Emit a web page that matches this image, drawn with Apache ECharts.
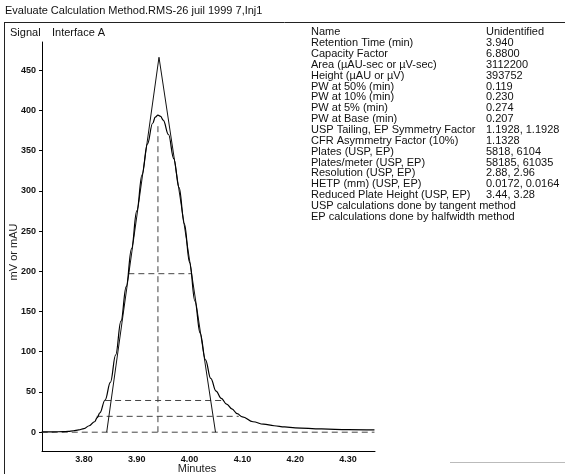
<!DOCTYPE html>
<html>
<head>
<meta charset="utf-8">
<script src="https://cdn.jsdelivr.net/npm/echarts@6/dist/echarts.min.js"></script>
<style>
  html, body { margin: 0; padding: 0; background: #fff; }
  #chart { width: 565px; height: 474px; }
</style>
</head>
<body>
<div id="chart"></div>
<script>
// chromatogram trace (minutes, mV)
const traceX = [3.72, 3.74, 3.76, 3.77, 3.78, 3.79, 3.80, 3.81, 3.82, 3.825, 3.83, 3.84, 3.85, 3.86, 3.87, 3.88, 3.89, 3.90, 3.91, 3.92, 3.93, 3.935, 3.94, 3.945, 3.95, 3.96, 3.97, 3.98, 3.99, 4.00, 4.01, 4.02, 4.03, 4.04, 4.05, 4.06, 4.07, 4.08, 4.09, 4.10, 4.12, 4.14, 4.16, 4.18, 4.20, 4.25, 4.30, 4.35];
const traceY = [0.3, 0.4, 0.7, 1.0, 1.8, 2.8, 4.5, 8, 13, 18, 24, 40, 62, 96, 138, 181, 228, 275, 320, 358, 384, 391.5, 394, 392.5, 388, 370, 340, 304, 259, 211, 163, 123, 90, 67, 51, 42, 35, 29, 23, 19, 13, 10, 8, 6.5, 5.3, 4, 3.2, 2.8];

// tangent triangle
const tangentX = [3.843, 3.942, 4.049];
const tangentY = [0, 466, 0];

// width measurement lines: [x start, x end, height]
const baseLine = [3.72, 4.35, 0];
const halfLine = [3.884, 4.003, 197];
const tenLine = [3.840, 4.064, 39.4];
const fiveLine = [3.824, 4.093, 19.7];
const apexLine = [3.94, 0, 385];

const xTicks = [3.8, 3.9, 4.0, 4.1, 4.2, 4.3];
const yTicks = [0, 50, 100, 150, 200, 250, 300, 350, 400, 450];

const statNames = ['Name', 'Retention Time (min)', 'Capacity Factor', 'Area (\u00b5AU-sec or \u00b5V-sec)', 'Height (\u00b5AU or \u00b5V)', 'PW at 50% (min)', 'PW at 10% (min)', 'PW at 5% (min)', 'PW at Base (min)', 'USP Tailing, EP Symmetry Factor', 'CFR Asymmetry Factor (10%)', 'Plates (USP, EP)', 'Plates/meter (USP, EP)', 'Resolution (USP, EP)', 'HETP (mm) (USP, EP)', 'Reduced Plate Height (USP, EP)', 'USP calculations done by tangent method', 'EP calculations done by halfwidth method'];
const statValues = ['Unidentified', '3.940', '6.8800', '3112200', '393752', '0.119', '0.230', '0.274', '0.207', '1.1928, 1.1928', '1.1328', '5818, 6104', '58185, 61035', '2.88, 2.96', '0.0172, 0.0164', '3.44, 3.28', '', ''];

const font = '"Liberation Sans", Arial, sans-serif';
const chart = echarts.init(document.getElementById('chart'), null, { renderer: 'canvas' });

const hLine = (l) => [[l[0], l[2]], [l[1], l[2]]];
const dashed = (data) => ({
  type: 'line', data: data, showSymbol: false, silent: true,
  lineStyle: { color: '#444', width: 1, type: [6, 4] }, z: 1
});

const graphics = [
  { type: 'text', left: 5, top: 5, style: { text: 'Evaluate Calculation Method.RMS-26 juil 1999 7,Inj1', font: '11px ' + font, fill: '#111' } },
  { type: 'line', shape: { x1: 4, y1: 22.5, x2: 565, y2: 22.5 }, style: { stroke: '#222', lineWidth: 1 } },
  { type: 'line', shape: { x1: 4.5, y1: 22, x2: 4.5, y2: 474 }, style: { stroke: '#222', lineWidth: 1 } },
  { type: 'line', shape: { x1: 450, y1: 462.5, x2: 565, y2: 462.5 }, style: { stroke: '#bbb', lineWidth: 1 } },
  { type: 'text', x: 10, y: 27, style: { text: 'Signal', font: '11px ' + font, fill: '#111' } },
  { type: 'text', x: 52, y: 27, style: { text: 'Interface A', font: '11px ' + font, fill: '#111' } },
  { type: 'text', x: 14, y: 252, rotation: Math.PI / 2, style: { text: 'mV or mAU', font: '11px ' + font, fill: '#222', align: 'center', verticalAlign: 'middle' } },
  { type: 'text', x: 197, y: 469, style: { text: 'Minutes', font: '11px ' + font, fill: '#222', align: 'center', verticalAlign: 'middle' } }
];
statNames.forEach((n, i) => {
  const y = 32.3 + i * 10.85;
  graphics.push({ type: 'text', x: 311, y: y, style: { text: n, font: '11px ' + font, fill: '#111', verticalAlign: 'middle' } });
  if (statValues[i]) {
    graphics.push({ type: 'text', x: 486, y: y, style: { text: statValues[i], font: '11px ' + font, fill: '#111', verticalAlign: 'middle' } });
  }
});

chart.setOption({
  animation: false,
  backgroundColor: '#fff',
  grid: { left: 42, right: 190, top: 42, bottom: 22.5, containLabel: false, outerBoundsMode: 'none' },
  xAxis: {
    type: 'value', min: 3.7205, max: 4.351,
    axisLine: { onZero: false, lineStyle: { color: '#000', width: 1 } },
    axisTick: { show: false },
    splitLine: { show: false },
    axisLabel: {
      customValues: xTicks, margin: 4, color: '#111',
      fontFamily: font, fontSize: 9, fontWeight: 'bold',
      formatter: (v) => v.toFixed(2)
    }
  },
  yAxis: {
    type: 'value', min: -24, max: 485,
    axisLine: { show: true, lineStyle: { color: '#000', width: 1 } },
    axisTick: { show: true, customValues: yTicks, length: 3, lineStyle: { color: '#000' } },
    splitLine: { show: false },
    axisLabel: {
      customValues: yTicks, margin: 6, color: '#111',
      fontFamily: font, fontSize: 9, fontWeight: 'bold'
    }
  },
  graphic: graphics,
  series: [
    dashed(hLine(baseLine)),
    dashed(hLine(halfLine)),
    dashed(hLine(tenLine)),
    dashed(hLine(fiveLine)),
    dashed([[apexLine[0], apexLine[1]], [apexLine[0], apexLine[2]]]),
    {
      type: 'line', showSymbol: false, silent: true, z: 3,
      data: tangentX.map((x, i) => [x, tangentY[i]]),
      lineStyle: { color: '#111', width: 1 }
    },
    {
      type: 'line', showSymbol: false, silent: true, z: 4,
      smooth: 0.4, smoothMonotone: 'x',
      data: traceX.map((x, i) => [x, traceY[i]]),
      lineStyle: { color: '#000', width: 1.2 }
    }
  ]
});
</script>
</body>
</html>
